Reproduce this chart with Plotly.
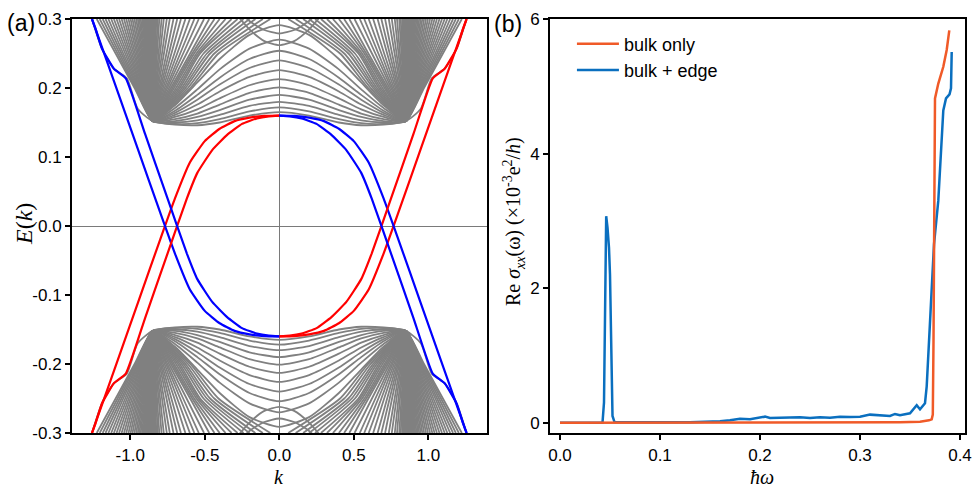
import plotly.graph_objects as go

# ================= panel (a): ribbon band structure =================
# edge-state branches on the k<0 side (the other copies follow from the
# k -> -k and E -> -E symmetry of the spectrum)
edgeA_k = [-1.257, -1.1, -0.95, -0.8, -0.7, -0.6, -0.5, -0.4, -0.3, -0.2, -0.1, 0.0]
edgeA_E = [-0.3, -0.204, -0.112, -0.02, 0.040, 0.092, 0.123, 0.141, 0.152, 0.157, 0.1595, 0.16]
edgeB_k = [-1.257, -1.235, -1.19, -1.11, -1.03, -0.9, -0.75, -0.62, -0.55, -0.45, -0.35, -0.25, -0.15, -0.07, 0.0]
edgeB_E = [-0.3, -0.287, -0.257, -0.228, -0.214, -0.133, -0.040, 0.040, 0.077, 0.110, 0.132, 0.148, 0.156, 0.159, 0.16]

# bulk subbands of the conduction band, k >= 0 (valence band is the mirror E -> -E)
hump_k = [0.0, 0.2, 0.4, 0.55, 0.7, 0.85]
hump_E = [
    [0.165, 0.160, 0.150, 0.146, 0.147, 0.152],
    [0.172, 0.166, 0.155, 0.149, 0.148, 0.152],
    [0.180, 0.174, 0.161, 0.153, 0.150, 0.152],
    [0.190, 0.183, 0.168, 0.158, 0.152, 0.152],
    [0.201, 0.193, 0.176, 0.163, 0.155, 0.152],
    [0.213, 0.204, 0.185, 0.169, 0.158, 0.152],
    [0.226, 0.216, 0.195, 0.176, 0.161, 0.152],
    [0.240, 0.229, 0.205, 0.183, 0.164, 0.152],
    [0.254, 0.242, 0.215, 0.190, 0.167, 0.152],
    [0.270, 0.257, 0.227, 0.198, 0.171, 0.152],
    [0.291, 0.277, 0.242, 0.208, 0.175, 0.152],
]
lens_k = [0.0, 0.1, 0.2, 0.3]
lens_E = [
    [0.262, 0.268, 0.285, 0.31],
    [0.279, 0.284, 0.297, 0.32],
]
# steeper subbands: k where they cross E = 0.30 / 0.25 / 0.20 left of the node
ray_k030 = [0.06, 0.11, 0.16, 0.20, 0.24, 0.28, 0.32, 0.36, 0.40, 0.435, 0.47, 0.505, 0.54, 0.57, 0.60,
            0.63, 0.66, 0.685, 0.71, 0.735, 0.755, 0.775, 0.79, 0.805, 0.815, 0.825, 0.832, 0.838, 0.842, 0.846]
ray_k025 = [0.408, 0.436, 0.464, 0.486, 0.508, 0.531, 0.543, 0.556, 0.571, 0.584, 0.598, 0.622, 0.645, 0.665, 0.685,
            0.704, 0.724, 0.741, 0.757, 0.774, 0.787, 0.800, 0.810, 0.820, 0.827, 0.833, 0.838, 0.842, 0.845, 0.847]
ray_k020 = [0.597, 0.613, 0.629, 0.642, 0.655, 0.668, 0.680, 0.693, 0.706, 0.717, 0.728, 0.740, 0.751, 0.760, 0.770,
            0.780, 0.789, 0.797, 0.805, 0.813, 0.820, 0.826, 0.831, 0.836, 0.839, 0.842, 0.844, 0.846, 0.847, 0.849]
node_k = 0.85
node_E = 0.152
# outer envelope of the bulk (lowest subband beyond the node)
env_k = [0.85, 0.95, 1.023, 1.11, 1.19, 1.257]
env_E = [0.152, 0.17, 0.214, 0.228, 0.257, 0.3]
# fan right of the node: k where each subband crosses E = 0.20 / 0.25 / 0.30
fan_levels = [0.20, 0.25, 0.30]
fan_k020 = [0.971, 0.965, 0.959, 0.952, 0.946, 0.940, 0.934, 0.928, 0.923, 0.917,
            0.912, 0.907, 0.902, 0.898, 0.894, 0.890, 0.886, 0.882, 0.879, 0.876,
            0.873, 0.870, 0.868, 0.866, 0.864, 0.862, 0.860, 0.859, 0.858, 0.857,
            0.856, 0.855, 0.855, 0.854, 0.854, 0.853, 0.853, 0.852, 0.852, 0.851]
fan_k025 = [1.098, 1.085, 1.072, 1.059, 1.047, 1.034, 1.022, 1.010, 0.999, 0.988,
            0.977, 0.967, 0.957, 0.948, 0.939, 0.931, 0.923, 0.916, 0.909, 0.903,
            0.897, 0.892, 0.887, 0.882, 0.878, 0.874, 0.871, 0.868, 0.866, 0.864,
            0.862, 0.860, 0.859, 0.857, 0.856, 0.855, 0.854, 0.853, 0.852, 0.851]
fan_k030 = [1.225, 1.205, 1.185, 1.166, 1.147, 1.128, 1.110, 1.092, 1.075, 1.058,
            1.042, 1.027, 1.012, 0.998, 0.985, 0.972, 0.960, 0.949, 0.939, 0.930,
            0.921, 0.913, 0.906, 0.899, 0.894, 0.889, 0.885, 0.881, 0.877, 0.874,
            0.871, 0.868, 0.866, 0.864, 0.862, 0.860, 0.858, 0.857, 0.856, 0.855]

k_ticks = [-1.0, -0.5, 0.0, 0.5, 1.0]
k_ticktext = ["-1.0", "-0.5", "0.0", "0.5", "1.0"]
E_ticks = [-0.3, -0.2, -0.1, 0.0, 0.1, 0.2, 0.3]
E_ticktext = ["-0.3", "-0.2", "-0.1", "0.0", "0.1", "0.2", "0.3"]

# ================= panel (b): optical conductivity =================
bulk_w = [0.0, 0.05, 0.1, 0.15, 0.2, 0.25, 0.3, 0.34, 0.36, 0.366, 0.369, 0.3717, 0.3728, 0.3735,
          0.374, 0.375, 0.3783, 0.3833, 0.3867, 0.3893]
bulk_s = [0.0, 0.0, 0.0, 0.0, 0.0, 0.0, 0.003, 0.008, 0.015, 0.025, 0.035, 0.05, 0.12, 1.2,
          3.5, 4.82, 5.04, 5.29, 5.54, 5.83]
edge_w = [0.0, 0.03, 0.0425, 0.044, 0.0452, 0.0462, 0.0475, 0.049, 0.050, 0.051, 0.0525, 0.0545,
          0.07, 0.1, 0.13, 0.15, 0.16, 0.17, 0.18, 0.19, 0.2, 0.205, 0.21, 0.22, 0.23, 0.24, 0.25,
          0.26, 0.27, 0.28, 0.29, 0.30, 0.31, 0.32, 0.33, 0.335, 0.34, 0.35, 0.3567, 0.36, 0.365,
          0.3667, 0.3693, 0.3717, 0.374, 0.3783, 0.3833, 0.386, 0.3895, 0.391, 0.3917]
edge_s = [0.0, 0.0, 0.0, 0.3, 2.0, 3.07, 2.9, 2.6, 2.2, 1.0, 0.1, 0.01,
          0.005, 0.005, 0.006, 0.01, 0.02, 0.035, 0.06, 0.05, 0.07, 0.09, 0.07, 0.075, 0.07, 0.08, 0.07,
          0.08, 0.075, 0.09, 0.085, 0.09, 0.12, 0.11, 0.10, 0.13, 0.11, 0.14, 0.26, 0.20, 0.29,
          0.54, 1.24, 1.85, 2.65, 3.3, 4.64, 4.82, 4.88, 4.97, 5.51]
w_ticks = [0.0, 0.1, 0.2, 0.3, 0.4]
w_ticktext = ["0.0", "0.1", "0.2", "0.3", "0.4"]
s_ticks = [0, 2, 4, 6]

GRAY = "#808080"
RED = "#FF0000"
BLUE = "#0000FF"
ORANGE = "#F05A28"
LBLUE = "#0A6FBF"
SANS = "Liberation Sans, Arial, sans-serif"
SERIF = "Liberation Serif, Times New Roman, serif"

fig = go.Figure()

# ---- build bulk subband segments (conduction, k>=0 data mirrored) ----
segments = []
for i, Eh in enumerate(hump_E):
    ks = list(hump_k)
    Es = list(Eh)
    if i == 0:
        ks += env_k[1:]
        Es += env_E[1:]
    else:
        ks += [fan_k020[i - 1], fan_k025[i - 1], fan_k030[i - 1]]
        Es += fan_levels
    segments.append(([-k for k in ks[::-1]] + ks[1:], Es[::-1] + Es[1:]))
for Eh in lens_E:
    segments.append(([-k for k in lens_k[::-1]] + lens_k[1:], Eh[::-1] + Eh[1:]))
n_h = len(hump_E) - 1
for j in range(len(ray_k030)):
    ks = [ray_k030[j], ray_k025[j], ray_k020[j], node_k,
          fan_k020[n_h + j], fan_k025[n_h + j], fan_k030[n_h + j]]
    Es = fan_levels[::-1] + [node_E] + fan_levels
    segments.append((ks, Es))
    segments.append(([-k for k in ks], Es))

for ks, Es in segments:
    for sign in (1, -1):
        fig.add_trace(go.Scatter(
            x=ks, y=[sign * e for e in Es], mode="lines",
            line=dict(color=GRAY, width=1.8, shape="spline", smoothing=0.6),
            showlegend=False, hoverinfo="skip", xaxis="x", yaxis="y"))

# ---- edge states ----
for bk, bE in ((edgeA_k, edgeA_E), (edgeB_k, edgeB_E)):
    copies = [
        (bk, bE, RED),                                   # red, k<0
        ([-k for k in bk], [-e for e in bE], RED),       # red, k>0
        (bk, [-e for e in bE], BLUE),                    # blue, k<0
        ([-k for k in bk], bE, BLUE),                    # blue, k>0
    ]
    for ks, Es, col in copies:
        fig.add_trace(go.Scatter(
            x=ks, y=Es, mode="lines",
            line=dict(color=col, width=2.2, shape="spline", smoothing=0.4),
            showlegend=False, hoverinfo="skip", xaxis="x", yaxis="y"))

# ---- panel (b) ----  (orange drawn on top, listed first in the legend)
fig.add_trace(go.Scatter(x=edge_w, y=edge_s, mode="lines", name="bulk + edge", legendrank=2,
                         line=dict(color=LBLUE, width=2.5), xaxis="x2", yaxis="y2"))
fig.add_trace(go.Scatter(x=bulk_w, y=bulk_s, mode="lines", name="bulk only", legendrank=1,
                         line=dict(color=ORANGE, width=2.5), xaxis="x2", yaxis="y2"))

ax_common = dict(showline=True, mirror=True, linecolor="black", linewidth=2,
                 ticks="outside", ticklen=5, tickwidth=1.5, tickcolor="black",
                 showgrid=False, automargin=False,
                 tickfont=dict(family=SANS, size=17, color="black"))

fig.update_layout(
    width=976, height=489,
    margin=dict(l=0, r=0, t=0, b=0, pad=0, autoexpand=False),
    paper_bgcolor="white", plot_bgcolor="white",
    xaxis=dict(domain=[72 / 976, 487 / 976], range=[-1.391, 1.394],
               tickvals=k_ticks, ticktext=k_ticktext, ticklabelstandoff=1,
               zeroline=True, zerolinecolor="#7a7a7a", zerolinewidth=1, **ax_common),
    yaxis=dict(domain=[56 / 489, 470 / 489], range=[-0.3, 0.3],
               tickvals=E_ticks, ticktext=E_ticktext,
               zeroline=True, zerolinecolor="#7a7a7a", zerolinewidth=1, **ax_common),
    xaxis2=dict(domain=[550 / 976, 965 / 976], range=[-0.01, 0.405], anchor="y2",
                tickvals=w_ticks, ticktext=w_ticktext, ticklabelstandoff=1,
                zeroline=False, **ax_common),
    yaxis2=dict(domain=[56 / 489, 470 / 489], range=[-0.153, 6.0], anchor="x2",
                tickvals=s_ticks, zeroline=False, **ax_common),
    legend=dict(x=0.586, y=0.948, xanchor="left", yanchor="top", itemwidth=42,
                traceorder="normal",
                bgcolor="rgba(0,0,0,0)", font=dict(family=SANS, size=18, color="black")),
    showlegend=True,
)

ann = [
    dict(text="(a)", x=5 / 976, y=(489 - 23) / 489, xanchor="left", yanchor="middle",
         font=dict(family=SANS, size=23, color="black")),
    dict(text="(b)", x=492 / 976, y=(489 - 24) / 489, xanchor="left", yanchor="middle",
         font=dict(family=SANS, size=23, color="black")),
    dict(text="<i>E</i>(<i>k</i>)", x=24 / 976, y=(489 - 224) / 489, textangle=-90,
         xanchor="center", yanchor="middle", font=dict(family=SERIF, size=24, color="black")),
    dict(text="<i>k</i>", x=279 / 976, y=0.0, xanchor="center", yanchor="bottom",
         borderpad=0, font=dict(family=SERIF, size=20, color="black")),
    dict(text="Re <i>σ</i><sub><i>xx</i></sub>(ω) (×10<sup>-3</sup>e<sup>2</sup>/<i>h</i>)",
         x=514 / 976, y=(489 - 222) / 489, textangle=-90, xanchor="center", yanchor="middle",
         font=dict(family=SERIF, size=20, color="black")),
    dict(text="<i>ħω</i>", x=762 / 976, y=0.0, xanchor="center", yanchor="bottom",
         borderpad=0, font=dict(family=SERIF, size=20, color="black")),
]
for a in ann:
    a.update(xref="paper", yref="paper", showarrow=False)
fig.update_layout(annotations=ann)

fig.write_html("out.html")
